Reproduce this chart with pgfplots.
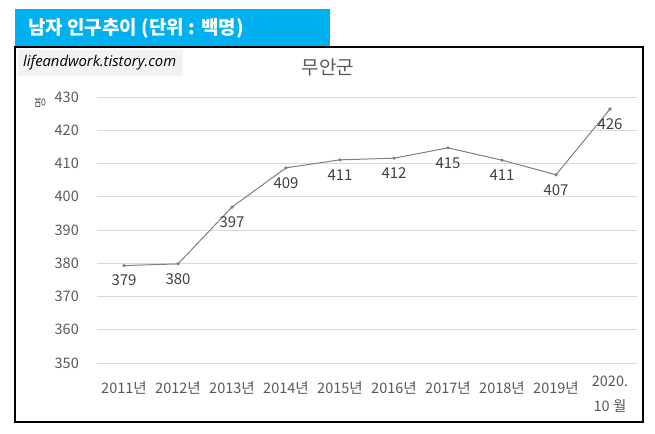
\documentclass[border=0pt]{standalone}
\usepackage{pgfplots}
\pgfplotsset{compat=1.18}
\usepackage{fontspec}
\setmainfont{Noto Sans CJK KR}
\newfontfamily\latinit{Open Sans}
\definecolor{hdr}{HTML}{00B0F0}
\definecolor{boxgray}{HTML}{F2F2F2}
\definecolor{labelgray}{HTML}{595959}
\definecolor{datagray}{HTML}{404040}
\definecolor{gridgray}{HTML}{D9D9D9}
\definecolor{linegray}{HTML}{7F7F7F}
\begin{document}
\begin{tikzpicture}
\begin{scope}[x=1bp,y=1bp]
\path[use as bounding box] (0,0) rectangle (655,434);
\fill[hdr] (15,387) rectangle (330,425);
\node[anchor=west, text=white, font=\fontsize{19bp}{21bp}\selectfont\bfseries, inner sep=0] at (28,406) {남자 인구추이 (단위 : 백명)};
\draw[line width=1.5bp] (15,12) rectangle (643,387);
\fill[boxgray] (18,358) rectangle (183,384);
\node[anchor=west, inner sep=0] at (23,371) {\resizebox{153bp}{!}{\latinit\itshape lifeandwork.tistory.com}};
\node[text=labelgray, font=\fontsize{19bp}{22bp}\selectfont, inner sep=0] at (328,367) {무안군};
\node[rotate=90, text=labelgray, font=\fontsize{12bp}{14bp}\selectfont, inner sep=0] at (40,331) {명};
\end{scope}
\begin{axis}[
  at={(97bp,71bp)}, anchor=south west,
  scale only axis, width=540bp, height=266bp,
  xmin=-0.5, xmax=9.5, ymin=350, ymax=430,
  clip=false,
  axis line style={draw=none},
  major tick length=0pt,
  ytick={350,360,...,430},
  ymajorgrids,
  grid style={color=gridgray, line width=0.8bp},
  xtick={0,1,...,8},
  xticklabels={2011년,2012년,2013년,2014년,2015년,2016년,2017년,2018년,2019년},
  extra x ticks={9},
  extra x tick labels={{2020.\\[8bp]10 월}},
  extra x tick style={xticklabel style={yshift=5bp}},
  tick label style={font=\fontsize{14.5bp}{17bp}\selectfont, text=labelgray},
  xticklabel style={anchor=north, inner sep=0pt, yshift=-18bp, align=center},
  yticklabel style={anchor=east, inner sep=0pt, xshift=-18bp},
  /pgf/number format/.cd, fixed, precision=0, assume math mode=true,
]
\addplot[color=linegray, line width=1bp, mark=*, mark size=1.1bp,
  nodes near coords,
  every node near coord/.append style={anchor=north, inner sep=0pt, yshift=-9bp, text=datagray, font=\fontsize{15bp}{17bp}\selectfont}]
  coordinates {
  (0,379.3) (1,379.8) (2,396.9) (3,408.7) (4,411.1) (5,411.6) (6,414.7) (7,411.0) (8,406.6) (9,426.4)
  };
\end{axis}
\end{tikzpicture}
\end{document}
